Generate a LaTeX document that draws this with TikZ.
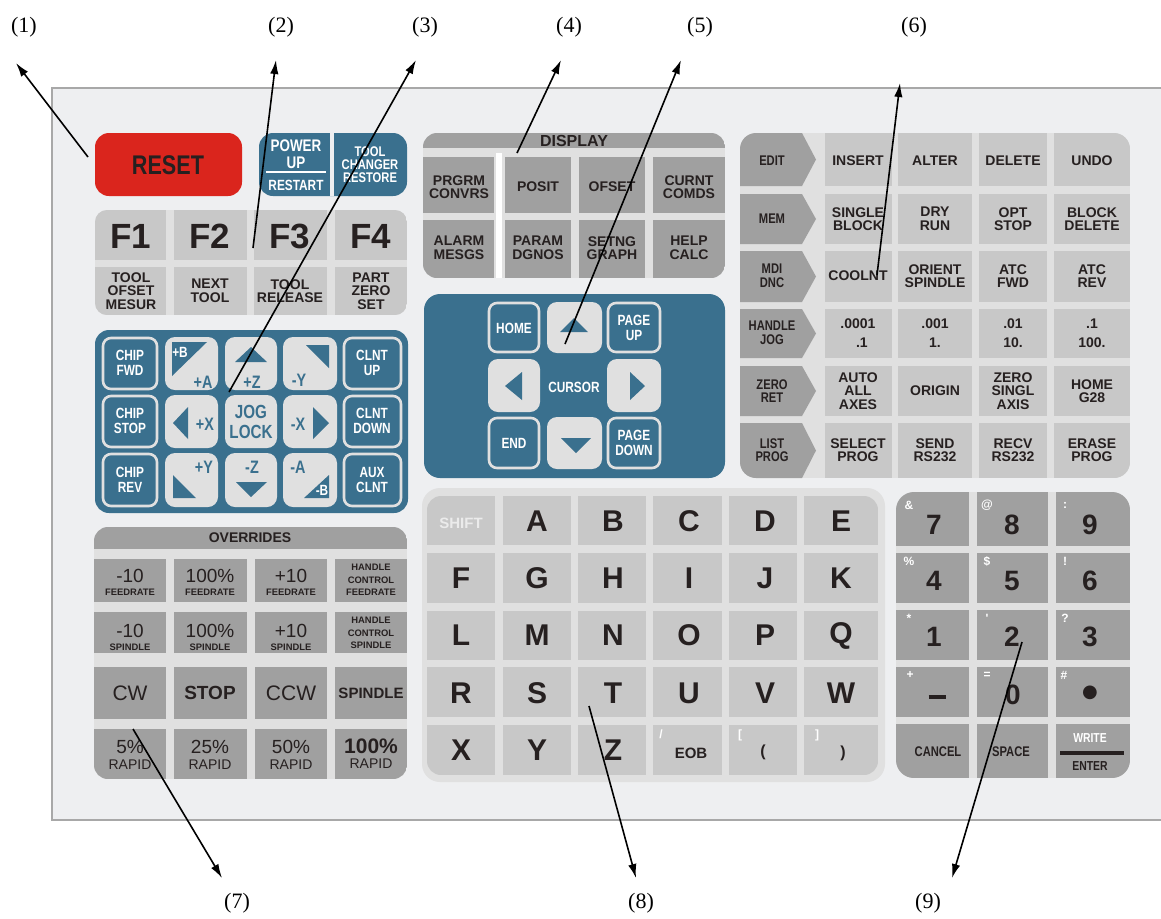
\documentclass[tikz,border=0pt]{standalone}
\usepackage{fontspec}
\setmainfont{Liberation Serif}
\newfontfamily\keyfont{Liberation Sans}
\newfontfamily\narrowfont[FakeStretch=0.8]{Liberation Sans}
\newfontfamily\dotfont{DejaVu Sans}
\usetikzlibrary{arrows.meta}

\definecolor{panelbg}{RGB}{238,239,241}
\definecolor{panelline}{RGB}{168,168,168}
\definecolor{resetred}{RGB}{218,37,29}
\definecolor{keyblue}{RGB}{58,112,142}
\definecolor{keyring}{RGB}{224,224,224}
\definecolor{gapgray}{RGB}{224,224,224}
\definecolor{keylight}{RGB}{200,200,200}
\definecolor{keydark}{RGB}{160,160,160}
\definecolor{keyink}{RGB}{38,32,32}

\tikzset{
  pointer/.style={line width=0.8pt,-{Latex[length=7pt,width=4.2pt]}},
  callout/.style={inner sep=0pt,font=\fontsize{11}{13}\selectfont},
  bluekey/.style={fill=keyblue,draw=keyring,line width=1.3pt,rounded corners=4pt},
  jogkey/.style={fill=keyring,rounded corners=5pt},
  keytxt/.style={inner sep=0pt,align=center,text=keyink,font=\keyfont\bfseries\fontsize{7}{6.8}\selectfont},
  slimtxt/.style={keytxt,font=\narrowfont\bfseries\fontsize{7}{6.8}\selectfont},
  whitetxt/.style={slimtxt,text=white,font=\narrowfont\bfseries\fontsize{7.4}{7.2}\selectfont},
  jogtxt/.style={slimtxt,text=keyblue,font=\narrowfont\bfseries\fontsize{9}{9.5}\selectfont},
  plaintxt/.style={keytxt,font=\keyfont\fontsize{9.5}{10}\selectfont},
  tinytxt/.style={keytxt,font=\keyfont\bfseries\fontsize{4.7}{6.2}\selectfont},
  lettertxt/.style={keytxt,font=\keyfont\bfseries\fontsize{15}{15}\selectfont},
  digittxt/.style={keytxt,font=\keyfont\bfseries\fontsize{14}{14}\selectfont},
  symtxt/.style={keytxt,text=white,font=\keyfont\bfseries\fontsize{6}{6}\selectfont}
}

\begin{document}
\begin{tikzpicture}[x=0.5pt,y=-0.5pt]
    \useasboundingbox (0,0) rectangle (1161,918);
    \fill[white] (0,0) rectangle (1161,918);
    \fill[panelbg] (52,88) rectangle (1170,820);
    \draw[panelline,line width=1.2pt] (1170,88) -- (52,88) -- (52,820) -- (1170,820);

    % reset, power up, tool changer
    \fill[resetred,rounded corners=7pt] (95,133) rectangle (242,196);
    \node[keytxt,font=\narrowfont\bfseries\fontsize{13.5}{14}\selectfont] (reset) at (168,165) {RESET};
    \fill[keyblue,rounded corners=7pt] (259,133) rectangle (407,196);
    \fill[panelbg] (330,133) rectangle (334,196);
    \node[whitetxt,font=\narrowfont\bfseries\fontsize{8.4}{8.4}\selectfont] (power) at (296,154) {POWER\\UP};
    \draw[white,line width=0.7pt] (266,172) -- (326,172);
    \node[whitetxt] (restart) at (296,185) {RESTART};
    \node[whitetxt,font=\narrowfont\bfseries\fontsize{7}{6.5}\selectfont] (toolchg) at (370,165) {TOOL\\CHANGER\\RESTORE};

    % function keys
    \begin{scope}
    \clip[rounded corners=6pt] (95,210) rectangle (407,315);
    \fill[gapgray] (95,210) rectangle (407,315);
    \foreach \xa/\xb in {95/166,174/247,254/327,335/407}
      \foreach \ya/\yb in {210/260,267/315}
        \fill[keylight] (\xa,\ya) rectangle (\xb,\yb);
    \end{scope}
    \foreach \x/\ta/\tb [count=\i] in {131/F1/{TOOL\\OFSET\\MESUR},210/F2/{NEXT\\TOOL},290/F3/{TOOL\\RELEASE},371/F4/{PART\\ZERO\\SET}} {
      \node[keytxt,font=\keyfont\bfseries\fontsize{17.5}{18}\selectfont] (f\i) at (\x,236) {\ta};
      \node[keytxt] (fs\i) at (\x,291) {\tb};
    }

    % jog keys
    \fill[keyblue,rounded corners=7pt] (95,330) rectangle (408,513);
    \foreach \ya/\yb in {337/390,395/448,453/507} {
      \draw[bluekey] (103,\ya+1) rectangle (157,\yb-1);
      \draw[bluekey] (344,\ya+1) rectangle (401,\yb-1);
      \foreach \xa/\xb in {165/218,225/277,283/337}
        \fill[jogkey] (\xa,\ya) rectangle (\xb,\yb);
    }
    \node[whitetxt] (chipfwd) at (130,363) {CHIP\\FWD};
    \node[whitetxt] (chipstop) at (130,421) {CHIP\\STOP};
    \node[whitetxt] (chiprev) at (130,480) {CHIP\\REV};
    \node[whitetxt] (clntup) at (372,363) {CLNT\\UP};
    \node[whitetxt] (clntdown) at (372,421) {CLNT\\DOWN};
    \node[whitetxt] (auxclnt) at (372,480) {AUX\\CLNT};
    \fill[keyblue] (172,342) -- (207,342) -- (172,376) -- cycle;
    \node[whitetxt] (pb) at (180,352) {+B};
    \node[jogtxt] (pa) at (203,382) {+A};
    \fill[keyblue] (235,362) -- (251,347) -- (267,362) -- cycle;
    \node[jogtxt] (pz) at (252,382) {+Z};
    \fill[keyblue] (306,345) -- (329,345) -- (329,368) -- cycle;
    \node[jogtxt] (my) at (299,380) {-Y};
    \fill[keyblue] (173,423) -- (188,407) -- (188,439) -- cycle;
    \node[jogtxt] (px) at (205,424) {+X};
    \node[jogtxt,font=\narrowfont\bfseries\fontsize{9.5}{10}\selectfont] (joglock) at (251,422) {JOG\\LOCK};
    \node[jogtxt] (mx) at (298,424) {-X};
    \fill[keyblue] (313,407) -- (329,423) -- (313,439) -- cycle;
    \fill[keyblue] (173,475) -- (173,498) -- (196,498) -- cycle;
    \node[jogtxt] (py) at (204,467) {+Y};
    \node[jogtxt] (mz) at (252,467) {-Z};
    \fill[keyblue] (236,482) -- (267,482) -- (251,497) -- cycle;
    \node[jogtxt] (ma) at (298,467) {-A};
    \fill[keyblue] (329,475) -- (329,498) -- (304,498) -- cycle;
    \node[whitetxt] (mb) at (322,490) {-B};

    % overrides
    \begin{scope}
    \clip[rounded corners=7pt] (94,527) rectangle (407,779);
    \fill[gapgray] (94,527) rectangle (407,779);
    \fill[keydark] (94,527) rectangle (407,549);
    \foreach \xa/\xb in {94/166,174/247,255/327,335/407}
      \foreach \ya/\yb in {559/602,612/653,667/719,729/779}
        \fill[keydark] (\xa,\ya) rectangle (\xb,\yb);
    \end{scope}
    \node[keytxt] (ovr) at (250,538) {OVERRIDES};
    \foreach \x/\va [count=\i] in {130/-10,210/100\%,291/+10} {
      \node[plaintxt] (fa\i) at (\x,576) {\va};
      \node[tinytxt] (fb\i) at (\x,592) {FEEDRATE};
      \node[plaintxt] (sa\i) at (\x,631) {\va};
      \node[tinytxt] (sb\i) at (\x,647) {SPINDLE};
    }
    \node[tinytxt] (hcf) at (371,580) {HANDLE\\CONTROL\\FEEDRATE};
    \node[tinytxt] (hcs) at (371,633) {HANDLE\\CONTROL\\SPINDLE};
    \node[plaintxt,font=\keyfont\fontsize{10.5}{11}\selectfont] (cw) at (130,693) {CW};
    \node[keytxt,font=\keyfont\bfseries\fontsize{9.5}{10}\selectfont] (stop) at (210,693) {STOP};
    \node[plaintxt,font=\keyfont\fontsize{10.5}{11}\selectfont] (ccw) at (291,693) {CCW};
    \node[keytxt,font=\keyfont\bfseries\fontsize{7.5}{8}\selectfont] (spindle) at (371,693) {SPINDLE};
    \foreach \x/\va [count=\i] in {130/5\%,210/25\%,291/50\%} {
      \node[plaintxt] (ra\i) at (\x,747) {\va};
      \node[plaintxt,font=\keyfont\fontsize{7}{7}\selectfont] (rb\i) at (\x,765) {RAPID};
    }
    \node[keytxt,font=\keyfont\bfseries\fontsize{10.5}{11}\selectfont] (ra4) at (371,746) {100\%};
    \node[plaintxt,font=\keyfont\fontsize{7}{7}\selectfont] (rb4) at (371,764) {RAPID};

    % display keys
    \begin{scope}
    \clip[rounded corners=7pt] (423,133) rectangle (725,278);
    \fill[gapgray] (423,133) rectangle (725,278);
    \fill[keydark] (423,133) rectangle (725,148);
    \foreach \xa/\xb in {423/494,505/571,579/645,653/725}
      \foreach \ya/\yb in {157/213,220/278}
        \fill[keydark] (\xa,\ya) rectangle (\xb,\yb);
    \fill[white] (496,153) rectangle (502,278);
    \end{scope}
    \node[keytxt,font=\keyfont\bfseries\fontsize{8}{8}\selectfont] (disp) at (574,141) {DISPLAY};
    \foreach \x/\ta/\tb [count=\i] in {459/{PRGRM\\CONVRS}/{ALARM\\MESGS},538/POSIT/{PARAM\\DGNOS},612/OFSET/{SETNG\\GRAPH},689/{CURNT\\COMDS}/{HELP\\CALC}} {
      \node[keytxt] (da\i) at (\x,187) {\ta};
      \node[keytxt] (db\i) at (\x,248) {\tb};
    }

    % cursor keys
    \fill[keyblue,rounded corners=8pt] (424,294) rectangle (725,478);
    \draw[bluekey] (489,303) rectangle (539,352);
    \draw[bluekey] (608,303) rectangle (660,352);
    \draw[bluekey] (489,418) rectangle (539,468);
    \draw[bluekey] (608,418) rectangle (660,468);
    \fill[jogkey] (547,302) rectangle (602,353);
    \fill[jogkey] (488,359) rectangle (540,412);
    \fill[jogkey] (607,359) rectangle (661,412);
    \fill[jogkey] (547,417) rectangle (602,469);
    \fill[keyblue] (560,332) -- (574,318) -- (588,332) -- cycle;
    \fill[keyblue] (505,386) -- (522,372) -- (522,400) -- cycle;
    \fill[keyblue] (630,372) -- (645,386) -- (630,400) -- cycle;
    \fill[keyblue] (561,438) -- (591,438) -- (576,453) -- cycle;
    \node[whitetxt] (home) at (514,328) {HOME};
    \node[whitetxt] (pgup) at (634,328) {PAGE\\UP};
    \node[whitetxt] (cursor) at (574,387) {CURSOR};
    \node[whitetxt] (end) at (514,443) {END};
    \node[whitetxt] (pgdown) at (634,443) {PAGE\\DOWN};

    % mode keys
    \begin{scope}
    \clip[rounded corners=8pt] (740,133) rectangle (1130,478);
    \fill[gapgray] (740,133) rectangle (1130,478);
    \foreach \ya/\yb in {133/186,194/244,251/302,309/358,366/416,423/478} {
      \fill[keydark] (740,\ya) -- (802,\ya) -- (816,{(\ya+\yb)/2}) -- (802,\yb) -- (740,\yb) -- cycle;
      \foreach \xa/\xb in {825/892,898/972,979/1047,1054/1130}
        \fill[keylight] (\xa,\ya) rectangle (\xb,\yb);
    }
    \end{scope}
    \foreach \y/\m/\ka/\kb/\kc/\kd [count=\r] in {
        161/EDIT/INSERT/ALTER/DELETE/UNDO,
        219/MEM/{SINGLE\\BLOCK}/{DRY\\RUN}/{OPT\\STOP}/{BLOCK\\DELETE},
        276/{MDI\\DNC}/COOLNT/{ORIENT\\SPINDLE}/{ATC\\FWD}/{ATC\\REV},
        333/{HANDLE\\JOG}/{.0001\\[2.5pt]\ \ .1}/{.001\\[2.5pt]1.}/{.01\\[2.5pt]10.}/{.1\\[2.5pt]100.},
        391/{ZERO\\RET}/{AUTO\\ALL\\AXES}/ORIGIN/{ZERO\\SINGL\\AXIS}/{HOME\\G28},
        450/{LIST\\PROG}/{SELECT\\PROG}/{SEND\\RS232}/{RECV\\RS232}/{ERASE\\PROG}} {
      \node[slimtxt] (md\r) at (772,\y) {\m};
      \node[keytxt] (ka\r) at (858,\y) {\ka};
      \node[keytxt] (kb\r) at (935,\y) {\kb};
      \node[keytxt] (kc\r) at (1013,\y) {\kc};
      \node[keytxt] (kd\r) at (1092,\y) {\kd};
    }

    % letter keys
    \fill[gapgray,rounded corners=9pt] (422,488) rectangle (885,782);
    \begin{scope}
    \clip[rounded corners=7pt] (427,496) rectangle (878,775);
    \foreach \xa/\xb in {427/495,503/571,578/646,653/722,729/797,804/878}
      \foreach \ya/\yb in {496/545,553/603,611/660,667/717,725/775}
        \fill[keylight] (\xa,\ya) rectangle (\xb,\yb);
    \end{scope}
    \node[keytxt,text=white!92!black,font=\keyfont\bfseries\fontsize{7.5}{8}\selectfont] (shift) at (461,523) {SHIFT};
    \foreach \ch [count=\i] in {A,B,C,D,E,F,G,H,I,J,K,L,M,N,O,P,Q,R,S,T,U,V,W,X,Y,Z} {
      \pgfmathtruncatemacro{\rw}{\i/6}
      \pgfmathtruncatemacro{\cl}{mod(\i,6)}
      \node[lettertxt] (key\ch) at ({461+76*\cl},{521+57.3*\rw}) {\ch};
    }
    \node[keytxt,font=\keyfont\bfseries\fontsize{7.5}{8}\selectfont] (eob) at (691,753) {EOB};
    \node[symtxt] (slash) at (661,734) {/};
    \node[keytxt,font=\keyfont\bfseries\fontsize{8}{8}\selectfont] (lpar) at (763,752) {(};
    \node[symtxt] (lbrack) at (740,735) {[};
    \node[keytxt,font=\keyfont\bfseries\fontsize{8}{8}\selectfont] (rpar) at (843,753) {)};
    \node[symtxt] (rbrack) at (817,735) {]};

    % number keys
    \begin{scope}
    \clip[rounded corners=9pt] (896,492) rectangle (1130,778);
    \fill[gapgray] (896,492) rectangle (1130,778);
    \foreach \xa/\xb in {896/969,977/1048,1056/1130}
      \foreach \ya/\yb in {492/546,553/603,610/660,667/717,724/778}
        \fill[keydark] (\xa,\ya) rectangle (\xb,\yb);
    \end{scope}
    \foreach \d/\s [count=\i from 0] in {7/\&,8/@,9/:,4/\%,5/\$,6/!,1/*,2/',3/?} {
      \pgfmathtruncatemacro{\rw}{\i/3}
      \pgfmathtruncatemacro{\cl}{mod(\i,3)}
      \node[digittxt] (num\d) at ({934+78*\cl},{525+56*\rw}) {\d};
      \node[symtxt] (sym\d) at ({909+78*\cl},{505+56.5*\rw}) {\s};
    }
    \node[digittxt] (minus) at (937,697) {\rule{8.5pt}{2.4pt}};
    \node[symtxt] (plus) at (910,675) {+};
    \node[digittxt] (num0) at (1013,695) {0};
    \node[symtxt] (equal) at (987,675) {=};
    \node[keytxt,font=\dotfont\fontsize{9}{9}\selectfont] (point) at (1090,693) {●};
    \node[symtxt] (hash) at (1064,675) {\#};
    \node[slimtxt] (cancel) at (938,752) {CANCEL};
    \node[slimtxt] (space) at (1011,752) {SPACE};
    \node[slimtxt,text=white,font=\narrowfont\bfseries\fontsize{6.5}{6.5}\selectfont] (write) at (1090,738) {WRITE};
    \fill[keyink] (1060,751) rectangle (1124,755);
    \node[slimtxt,font=\narrowfont\bfseries\fontsize{6.5}{6.5}\selectfont] (enter) at (1090,766) {ENTER};

    % callouts
    \node[callout] (l1) at (24,27) {(1)};
    \node[callout] (l2) at (281,27) {(2)};
    \node[callout] (l3) at (425,27) {(3)};
    \node[callout] (l4) at (569,27) {(4)};
    \node[callout] (l5) at (700,27) {(5)};
    \node[callout] (l6) at (914,27) {(6)};
    \node[callout] (l7) at (237,903) {(7)};
    \node[callout] (l8) at (641,903) {(8)};
    \node[callout] (l9) at (928,903) {(9)};
    \coordinate (p1) at (88,157);   \coordinate (t1) at (16,63);
    \coordinate (p2) at (253,248);  \coordinate (t2) at (276,60);
    \coordinate (p3) at (229,392);  \coordinate (t3) at (416,60);
    \coordinate (p4) at (517,153);  \coordinate (t4) at (561,60);
    \coordinate (p5) at (565,344);  \coordinate (t5) at (681,60);
    \coordinate (p6) at (877,275);  \coordinate (t6) at (900,83);
    \coordinate (p7) at (133,729);  \coordinate (t7) at (222,878);
    \coordinate (p8) at (589,706);  \coordinate (t8) at (636,878);
    \coordinate (p9) at (1022,642); \coordinate (t9) at (952,878);
    \foreach \i in {1,...,9}
      \draw[pointer] (p\i) -- (t\i);
\end{tikzpicture}
\end{document}
